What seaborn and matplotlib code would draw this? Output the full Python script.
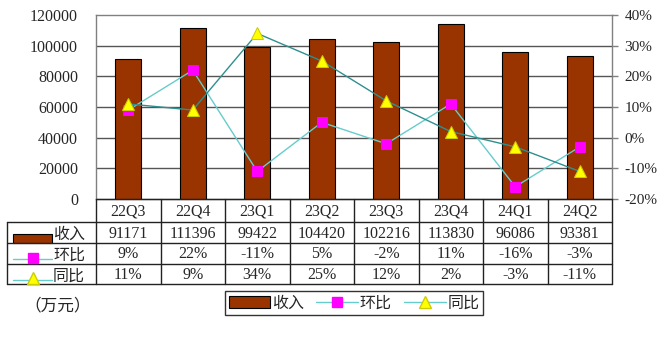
import numpy as np
import pandas as pd
import matplotlib
matplotlib.use("Agg")
import matplotlib.pyplot as plt
import seaborn as sns
from matplotlib.patches import Patch, Rectangle
from matplotlib.lines import Line2D

quarters = ["22Q3", "22Q4", "23Q1", "23Q2", "23Q3", "23Q4", "24Q1", "24Q2"]
revenue = [91171, 111396, 99422, 104420, 102216, 113830, 96086, 93381]
qoq = [9, 22, -11, 5, -2, 11, -16, -3]      # 环比 (%)
yoy = [11, 9, 34, 25, 12, 2, -3, -11]        # 同比 (%)
left_ticks = [0, 20000, 40000, 60000, 80000, 100000, 120000]
right_ticks = [-20, -10, 0, 10, 20, 30, 40]

sns.set_theme(style="white")
plt.rcParams["font.family"] = ["Liberation Serif", "Noto Sans CJK SC", "DejaVu Sans"]

W, H = 660, 338
BAR_C = "#993300"
QOQ_LINE = "#66CCCC"
YOY_LINE = "#2F8F8F"
CJK = ["Noto Sans CJK SC"]

fig = plt.figure(figsize=(W / 100, H / 100), dpi=100)
fig.patch.set_facecolor("white")

L, R, T, B = 96, 612, 15, 199
ax = fig.add_axes([L / W, 1 - B / H, (R - L) / W, (B - T) / H])

df = pd.DataFrame({"q": quarters, "rev": revenue})
sns.barplot(data=df, x="q", y="rev", color=BAR_C, saturation=1, width=0.4,
            edgecolor="black", linewidth=0.8, ax=ax, zorder=3)
ax.set_ylim(0, 120000)
ax.set_xlim(-0.5, len(quarters) - 0.5)
ax.set_yticks(left_ticks)
ax.set_yticklabels([str(v) for v in left_ticks], fontsize=11.5)
ax.set_xticks([])
ax.set_xlabel("")
ax.set_ylabel("")
for v in left_ticks[1:-1]:
    ax.axhline(v, color="#555555", lw=1.0, zorder=1)
ax.tick_params(axis="y", length=0, pad=13)
for s in ["left", "right", "top", "bottom"]:
    ax.spines[s].set_color("#808080")
    ax.spines[s].set_linewidth(1)

ax2 = ax.twinx()
ax2.set_ylim(-20, 40)
x = np.arange(len(quarters))
sns.lineplot(x=x, y=qoq, ax=ax2, color=QOQ_LINE, lw=1, marker="s", markersize=7,
             markerfacecolor="#FF00FF", markeredgecolor="#FF00FF", sort=False, zorder=5)
sns.lineplot(x=x, y=yoy, ax=ax2, color=YOY_LINE, lw=1, marker="^", markersize=8,
             markerfacecolor="#FFFF00", markeredgecolor="#CCCC00", sort=False, zorder=6)
ax2.set_xlim(-0.5, len(quarters) - 0.5)
ax2.set_yticks(right_ticks)
ax2.set_yticklabels([f"{v}%" for v in right_ticks], fontsize=11)
ax2.tick_params(axis="y", length=4, width=1, color="#808080", pad=5, direction="out")
ax2.set_ylabel("")
for s in ["left", "right", "top", "bottom"]:
    ax2.spines[s].set_visible(False)

# overlay for the data table
ov = fig.add_axes([0, 0, 1, 1])
ov.set_xlim(0, W)
ov.set_ylim(H, 0)
ov.axis("off")
ov.patch.set_alpha(0)

n = len(quarters)
cw = (R - L) / n
rows = [199, 222, 243, 264, 284]
TL = 7
lc = "#222222"
for i in range(n + 1):
    ov.plot([L + i * cw, L + i * cw], [rows[0], rows[-1]], color=lc, lw=1)
ov.plot([TL, TL], [rows[1], rows[-1]], color=lc, lw=1)
ov.plot([L, R], [rows[0], rows[0]], color=lc, lw=1)
for yv in rows[1:]:
    ov.plot([TL, R], [yv, yv], color=lc, lw=1)

fs = 11.5
for i, q in enumerate(quarters):
    cx = L + (i + 0.5) * cw
    ov.text(cx, (rows[0] + rows[1]) / 2 + 1, q, ha="center", va="center", fontsize=fs)
    ov.text(cx, (rows[1] + rows[2]) / 2 + 1, str(revenue[i]), ha="center", va="center", fontsize=fs)
    ov.text(cx, (rows[2] + rows[3]) / 2 + 1, f"{qoq[i]}%", ha="center", va="center", fontsize=fs)
    ov.text(cx, (rows[3] + rows[4]) / 2 + 1, f"{yoy[i]}%", ha="center", va="center", fontsize=fs)

# table row keys
ov.add_patch(Rectangle((13, 234), 39, 9, facecolor=BAR_C, edgecolor="black", lw=0.8))
ov.text(53, (rows[1] + rows[2]) / 2 + 2, "收入", ha="left", va="center", fontsize=fs, family=CJK)
ov.plot([13, 52], [259, 259], color=QOQ_LINE, lw=1)
ov.plot([33], [258], marker="s", markersize=7, mfc="#FF00FF", mec="#FF00FF")
ov.text(53, (rows[2] + rows[3]) / 2 + 2, "环比", ha="left", va="center", fontsize=fs, family=CJK)
ov.plot([13, 52], [280, 280], color=QOQ_LINE, lw=1)
ov.plot([33], [278], marker="^", markersize=8, mfc="#FFFF00", mec="#CCCC00")
ov.text(53, (rows[3] + rows[4]) / 2 + 2, "同比", ha="left", va="center", fontsize=fs, family=CJK)

ov.text(24, 306, "（万元）", ha="left", va="center", fontsize=12, family=CJK)

handles = [
    Patch(facecolor=BAR_C, edgecolor="black", lw=0.8),
    Line2D([], [], color=QOQ_LINE, lw=1, marker="s", markersize=7, mfc="#FF00FF", mec="#FF00FF"),
    Line2D([], [], color=QOQ_LINE, lw=1, marker="^", markersize=8, mfc="#FFFF00", mec="#CCCC00"),
]
leg = fig.legend(handles, ["收入", "环比", "同比"], loc="center",
                 bbox_to_anchor=(354 / W, 1 - 303 / H), ncol=3, frameon=True,
                 fancybox=False, edgecolor="black", prop={"family": "Noto Sans CJK SC", "size": fs},
                 handlelength=2.6, handletextpad=0.1, columnspacing=0.8, borderpad=0.25,
                 borderaxespad=0)
leg.get_frame().set_linewidth(1)

fig.savefig("out.png", dpi=100, facecolor="white")
